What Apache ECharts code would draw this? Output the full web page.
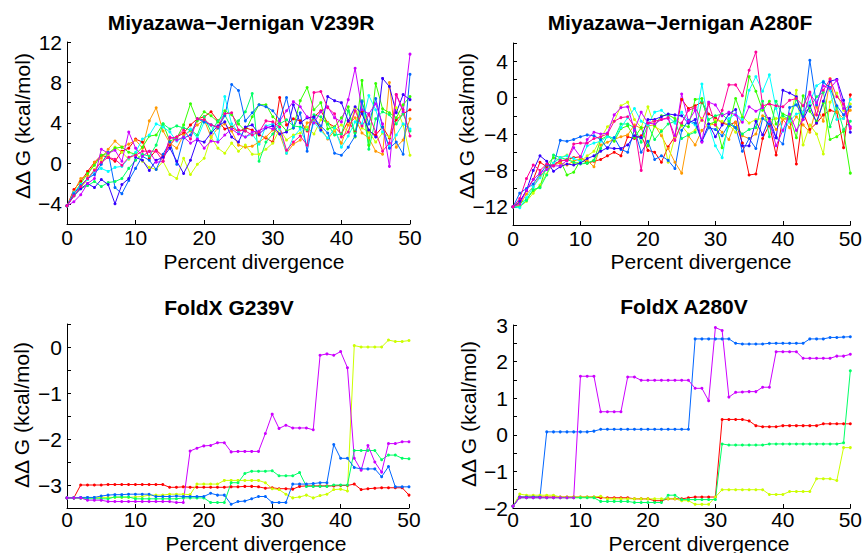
<!DOCTYPE html>
<html>
<head>
<meta charset="utf-8">
<script src="https://cdn.jsdelivr.net/npm/echarts@6.0.0/dist/echarts.min.js"></script>
<style>
html,body{margin:0;padding:0;background:#ffffff;}
#chart{width:865px;height:553px;}
</style>
</head>
<body>
<div id="chart"></div>
<script>
// ---------- data ----------
const divergence = [0,1,2,3,4,5,6,7,8,9,10,11,12,13,14,15,16,17,18,19,20,21,22,23,24,25,26,27,28,29,30,31,32,33,34,35,36,37,38,39,40,41,42,43,44,45,46,47,48,49,50];

const panelTitles = ['Miyazawa\u2212Jernigan V239R', 'Miyazawa\u2212Jernigan A280F', 'FoldX G239V', 'FoldX A280V'];
const xAxisTitle = 'Percent divergence';
const yAxisTitle = '\u0394\u0394 G (kcal/mol)';

// colours (hsv(10) style palette)
const colorsTen = ['#ff0000','#ff9900','#ccff00','#33ff00','#00ff66','#00ffff','#0066ff','#3300ff','#cc00ff','#ff0099'];
const colorsFive = ['#ff0000','#ccff00','#00ff66','#0066ff','#cc00ff'];

// Miyazawa-Jernigan V239R
const v239r_1 = [-4.2,-2.6,-1.8,-0.8,0.1,0.8,0.6,0.2,1.2,1.5,2.4,2.1,0.5,1.3,0.7,1.8,2.6,3.0,3.8,4.4,4.6,5.1,4.2,3.4,3.6,3.1,3.5,3.3,2.8,2.5,2.1,6.5,3.8,4.4,4.2,3.2,4.6,5.2,4.0,3.6,2.9,4.2,3.1,5.1,3.2,2.8,3.6,2.5,4.3,4.9,5.3];
const v239r_2 = [-4.2,-2.8,-1.5,-1.2,0.1,0.5,1.4,2.2,1.6,1.9,2.3,1.5,4.2,5.5,3.2,2.0,1.5,2.8,3.2,3.8,4.3,2.6,3.5,3.9,3.2,1.8,1.6,1.7,2.1,2.6,3.3,2.9,1.0,1.9,2.3,4.0,4.2,3.5,2.4,3.2,2.0,3.8,4.5,3.0,2.5,1.2,0.9,8.0,1.6,2.3,4.4];
const v239r_3 = [-4.2,-3.2,-2.4,-1.6,-0.6,0.2,0.8,1.6,1.1,0.4,1.0,0.2,-0.4,-0.6,0.2,-1.1,-1.5,0.5,-1.1,-0.1,0.5,2.6,1.5,1.0,2.0,1.2,1.8,0.9,0.9,1.4,2.0,3.4,2.3,2.8,3.0,3.6,2.9,4.3,4.0,3.3,3.8,3.1,5.5,3.5,3.1,2.1,3.0,2.6,5.5,3.8,0.8];
const v239r_4 = [-4.2,-3.0,-2.0,-1.0,-0.2,0.8,1.0,1.5,1.6,1.1,0.9,1.6,2.7,2.8,3.9,2.2,2.5,3.8,5.9,4.2,5.1,4.7,4.1,5.2,4.8,3.9,3.2,4.6,5.8,5.8,4.6,4.0,3.2,3.5,6.2,7.5,5.3,6.0,3.4,3.6,4.5,5.6,2.6,8.2,1.8,7.9,5.4,5.0,4.5,5.8,6.6];
const v239r_5 = [-4.2,-3.2,-2.5,-2.2,-1.8,-2.3,-1.9,-1.8,-1.5,-0.5,0.3,0.9,0.7,1.8,3.9,3.4,3.7,3.5,3.3,2.8,4.6,3.1,4.2,4.8,3.5,4.2,5.1,6.9,0.2,2.1,2.9,3.9,4.3,3.7,3.6,3.3,4.8,4.6,3.9,2.8,2.9,5.2,3.0,6.2,1.4,4.4,5.1,4.8,3.9,4.9,3.2];
const v239r_6 = [-4.2,-2.9,-2.1,-1.6,-0.8,-0.5,-0.8,-0.4,-0.3,0.5,1.1,2.4,2.8,3.9,3.6,3.1,2.2,2.6,3.4,2.5,4.1,3.8,2.3,6.6,3.9,3.1,2.6,2.9,1.9,3.7,3.9,3.4,1.0,2.6,3.4,1.8,4.1,3.2,2.5,3.5,1.6,2.7,4.1,3.9,6.7,5.3,3.1,1.7,2.8,3.9,3.4];
const v239r_7 = [-4.2,-3.0,-2.2,-1.5,-1.1,-0.1,1.1,-2.4,-3.0,-1.7,-0.5,0.7,0.3,-0.6,0.9,2.1,-0.1,2.5,2.8,4.4,4.1,3.8,3.5,4.7,7.8,7.2,4.2,5.0,5.8,5.6,5.2,4.3,6.5,3.5,5.0,1.2,4.5,3.7,3.0,1.0,0.8,1.6,2.7,6.1,3.9,6.4,3.6,1.5,2.1,0.9,8.8];
const v239r_8 = [-4.2,-3.2,-2.5,-2.0,-2.4,-1.6,-2.1,-4.0,-2.1,-1.5,0.6,0.3,-0.7,0.3,0.6,1.5,0.2,-1.0,0.3,2.3,2.1,3.0,3.7,4.1,2.6,2.1,3.6,3.8,2.9,3.5,3.7,2.9,3.1,5.8,4.0,4.5,4.6,3.3,6.6,6.2,6.0,4.2,5.6,4.9,3.3,2.6,8.4,7.6,5.0,6.8,6.3];
const v239r_9 = [-4.2,-3.8,-3.1,-2.0,-1.5,1.4,1.0,1.3,0.2,3.1,1.5,0.7,1.2,0.1,0.2,2.6,2.3,2.6,2.0,2.4,1.5,2.2,2.1,2.8,3.4,2.9,2.6,3.1,3.2,3.6,3.4,4.2,5.2,6.1,5.6,4.6,4.0,5.1,5.6,4.5,4.1,6.3,9.4,5.3,4.9,5.9,3.9,-0.3,6.8,5.1,10.8];
const v239r_10 = [-4.2,-3.2,-2.3,-1.5,-0.7,0.1,0.6,0.4,-0.2,0.6,0.8,1.2,1.2,1.2,0.2,2.5,2.6,3.3,2.4,4.4,4.3,3.8,3.6,4.9,5.0,3.3,3.2,2.8,3.1,4.2,4.1,3.6,1.3,2.1,2.7,1.8,7.0,7.1,5.5,4.9,2.6,3.1,5.2,3.7,4.8,3.1,1.2,2.0,6.8,5.3,2.7];

// Miyazawa-Jernigan A280F
const a280f_1 = [-12.0,-11.5,-10.2,-9.0,-7.1,-7.6,-7.3,-7.0,-6.8,-6.6,-6.5,-7.2,-7.0,-6.8,-6.4,-6.0,-6.4,-4.3,-4.5,-4.2,-5.8,-6.0,-7.1,-5.4,-4.3,-0.2,-1.2,-0.9,-0.5,-1.8,-2.2,-2.8,-3.0,-2.7,-5.0,-8.5,-8.4,-4.5,-3.0,-6.3,-2.3,-2.4,-7.3,-1.6,-3.5,-2.8,-1.9,-1.4,-1.6,-5.5,0.3];
const a280f_2 = [-12.0,-11.8,-10.6,-9.8,-8.6,-7.9,-7.4,-7.2,-7.4,-7.0,-6.7,-6.9,-7.6,-5.2,-4.9,-4.6,-4.3,-4.1,-3.0,-3.4,-3.1,-3.0,-4.2,-5.6,-7.1,-8.3,-4.2,-5.2,-3.6,-2.9,-3.0,-3.8,-4.6,-2.7,-4.2,-4.5,-4.0,-2.0,-2.3,-3.5,-2.4,-3.3,-2.1,-3.0,-3.8,-1.0,-2.6,2.1,-1.6,-2.3,-1.4];
const a280f_3 = [-12.0,-12.0,-11.4,-10.5,-9.6,-8.4,-7.2,-6.6,-6.3,-7.3,-7.0,-6.4,-5.9,-4.5,-3.2,-2.6,-0.9,-0.5,-2.4,-3.3,-1.0,-3.2,-3.6,-7.1,-4.3,-3.1,-4.0,-3.6,-2.3,-3.3,-2.5,-2.6,-3.0,-3.8,-2.1,-2.8,-2.4,-2.3,-2.5,-2.3,-2.2,-2.6,0.8,-5.2,-3.0,-4.0,-6.2,-0.5,0.5,-1.4,-0.7];
const a280f_4 = [-12.0,-11.6,-11.2,-10.2,-9.8,-7.4,-6.6,-6.9,-8.5,-8.2,-6.9,-7.2,-6.9,-4.6,-4.2,-4.8,-3.4,-3.1,-4.4,-3.3,-5.3,-3.1,-2.0,-1.9,-2.3,-3.0,-3.2,-0.2,-0.1,-2.9,-2.7,-5.5,-3.1,-0.1,-2.2,2.3,0.7,-1.4,-0.4,-2.9,-1.8,-2.1,-4.4,0.2,-1.5,-2.6,-0.6,-4.6,-4.3,-3.7,-8.3];
const a280f_5 = [-12.0,-12.0,-11.3,-10.1,-9.9,-8.5,-6.3,-6.6,-6.8,-7.1,-7.3,-7.2,-6.9,-5.6,-4.2,-4.5,-2.9,-2.9,-3.3,-4.9,-3.0,-4.6,-3.7,-2.9,-2.6,-4.5,-4.1,-3.8,-0.4,-2.4,-2.0,-1.8,-2.6,-3.3,-4.0,-3.5,-3.3,-0.4,-4.3,-0.4,-2.0,-2.4,-0.2,-1.8,-1.1,0.1,0.6,-3.2,-1.0,-3.5,-2.6];
const a280f_6 = [-12.0,-12.1,-11.0,-9.8,-8.8,-7.9,-7.2,-6.6,-6.4,-6.7,-7.0,-5.3,-5.0,-4.8,-4.3,-4.5,-3.3,-2.2,-1.2,-2.6,-3.0,-1.6,-1.4,-2.1,-2.8,-1.6,-2.6,-3.0,1.5,-3.0,-5.3,-6.6,-2.3,-1.8,-2.4,0.8,2.3,0.7,2.5,-1.2,-3.7,-2.6,-1.8,-1.6,-0.5,1.3,1.8,0.8,-2.4,-2.3,-0.2];
const a280f_7 = [-12.0,-10.5,-10.0,-9.5,-8.4,-7.4,-7.5,-4.7,-4.8,-4.6,-4.3,-4.1,-4.2,-4.6,-5.6,-4.4,-5.7,-6.0,-3.5,-6.0,-4.8,-6.8,-6.4,-6.9,-7.8,-3.6,-2.5,-2.8,-4.8,-3.3,-3.5,-4.2,-2.9,-3.3,-5.9,-4.5,-5.6,-2.3,-2.9,-4.4,-5.1,-1.1,-0.8,-2.1,4.1,-0.8,1.7,1.1,-0.9,-1.9,-1.0];
const a280f_8 = [-12.0,-11.4,-10.2,-8.0,-6.4,-7.0,-8.1,-7.6,-7.3,-7.4,-7.2,-6.7,-6.4,-5.9,-5.5,-5.6,-5.6,-5.2,-4.2,-4.4,-2.4,-2.4,-2.1,-1.8,-1.9,-2.0,-2.8,-2.4,-4.8,-2.9,-4.3,-3.0,-1.8,-1.3,-5.3,-5.3,-2.6,-4.1,-2.3,-4.4,0.8,0.5,0.1,-2.4,-0.9,-2.8,-0.4,1.8,2.0,-0.3,-3.8];
const a280f_9 = [-12.0,-11.7,-10.2,-9.0,-8.3,-7.9,-7.5,-7.5,-6.9,-5.5,-6.5,-4.6,-3.8,-4.0,-3.9,-1.9,-1.1,-1.0,-3.6,-1.6,-2.8,-2.9,-2.4,-2.3,-4.2,0.4,-2.6,-1.4,-4.9,-0.5,-0.8,-2.0,-1.6,-1.9,-2.7,-1.0,-1.5,-1.1,-2.6,-5.3,-3.6,-1.8,-3.6,-2.4,0.4,-0.6,1.3,1.0,1.9,-1.2,-3.2];
const a280f_10 = [-12.0,-11.1,-8.9,-7.4,-8.0,-7.3,-7.5,-6.9,-6.9,-5.1,-5.0,-5.0,-4.5,-4.3,-4.0,-2.6,-2.2,-2.1,-3.2,-8.0,-2.8,-2.6,-2.4,-2.2,-4.7,-2.8,-1.4,-1.1,-2.5,-0.7,-3.0,-1.4,1.4,1.4,0.2,3.0,5.0,-0.9,-0.7,-0.9,-1.0,-0.3,-0.1,-0.9,0.6,-1.9,0.8,2.0,0.1,-0.7,-3.4];

// FoldX G239V
const g239v_1 = [-3.28,-3.28,-3.0,-3.0,-3.0,-3.0,-2.99,-2.99,-2.99,-2.99,-2.99,-2.99,-2.99,-2.99,-2.99,-3.05,-3.05,-3.04,-3.05,-3.05,-3.05,-3.05,-3.05,-3.05,-3.04,-3.04,-3.03,-3.03,-3.04,-3.07,-3.06,-3.08,-3.08,-3.09,-3.03,-3.02,-3.02,-3.02,-3.02,-3.02,-3.01,-3.01,-2.98,-3.1,-3.08,-3.07,-3.06,-3.06,-3.06,-3.06,-3.22];
const g239v_2 = [-3.28,-3.28,-3.28,-3.28,-3.28,-3.27,-3.27,-3.27,-3.27,-3.27,-3.26,-3.25,-3.22,-3.22,-3.22,-3.2,-3.2,-3.2,-3.21,-2.98,-2.98,-2.98,-2.98,-2.9,-2.9,-2.9,-2.9,-2.9,-2.9,-2.95,-3.08,-3.1,-3.2,-3.28,-3.26,-3.22,-3.28,-3.23,-3.2,-3.1,-3.09,-3.13,0.03,0.0,0.0,0.0,0.0,0.15,0.12,0.12,0.14];
const g239v_3 = [-3.28,-3.28,-3.29,-3.3,-3.3,-3.3,-3.3,-3.26,-3.26,-3.26,-3.3,-3.3,-3.3,-3.3,-3.3,-3.3,-3.3,-3.28,-3.28,-3.28,-3.28,-3.38,-3.38,-3.38,-2.95,-2.95,-2.75,-2.7,-2.7,-2.7,-2.69,-2.8,-2.8,-2.8,-2.73,-3.03,-3.03,-3.03,-3.03,-3.0,-3.0,-3.0,-2.25,-2.25,-2.25,-2.25,-2.45,-2.35,-2.35,-2.42,-2.43];
const g239v_4 = [-3.28,-3.28,-3.27,-3.27,-3.27,-3.24,-3.22,-3.21,-3.21,-3.2,-3.2,-3.2,-3.2,-3.25,-3.25,-3.25,-3.24,-3.25,-3.25,-3.25,-3.25,-3.18,-3.22,-3.22,-3.42,-3.36,-3.35,-3.3,-3.25,-3.25,-3.38,-3.38,-3.38,-2.98,-2.98,-2.98,-2.97,-2.95,-2.95,-2.12,-2.42,-2.42,-2.62,-2.65,-2.65,-2.65,-2.82,-2.6,-3.04,-3.04,-3.04];
const g239v_5 = [-3.28,-3.28,-3.28,-3.33,-3.33,-3.33,-3.36,-3.36,-3.36,-3.36,-3.36,-3.36,-3.36,-3.36,-3.36,-3.36,-3.38,-3.38,-2.26,-2.2,-2.15,-2.14,-2.08,-2.08,-2.28,-2.27,-2.27,-2.27,-2.27,-1.88,-1.46,-1.77,-1.7,-1.76,-1.76,-1.76,-1.8,-0.18,-0.15,-0.18,-0.1,-0.45,-2.42,-2.68,-2.14,-2.5,-2.72,-2.1,-2.1,-2.06,-2.06];

// FoldX A280V
const a280v_1 = [-1.95,-1.7,-1.7,-1.7,-1.7,-1.7,-1.7,-1.7,-1.7,-1.7,-1.7,-1.7,-1.7,-1.72,-1.72,-1.72,-1.72,-1.72,-1.75,-1.75,-1.75,-1.8,-1.8,-1.75,-1.75,-1.75,-1.72,-1.7,-1.7,-1.7,-1.7,0.42,0.42,0.42,0.42,0.38,0.25,0.22,0.22,0.22,0.25,0.25,0.25,0.25,0.25,0.25,0.3,0.3,0.3,0.3,0.3];
const a280v_2 = [-1.95,-1.62,-1.65,-1.65,-1.65,-1.65,-1.65,-1.7,-1.7,-1.7,-1.7,-1.7,-1.7,-1.68,-1.75,-1.75,-1.75,-1.75,-1.75,-1.75,-1.75,-1.75,-1.75,-1.75,-1.75,-1.8,-1.8,-1.9,-1.9,-1.9,-1.7,-1.5,-1.5,-1.5,-1.5,-1.5,-1.5,-1.5,-1.63,-1.63,-1.63,-1.55,-1.55,-1.55,-1.55,-1.2,-1.2,-1.2,-1.25,-0.35,-0.35];
const a280v_3 = [-1.95,-1.72,-1.72,-1.72,-1.72,-1.72,-1.72,-1.72,-1.72,-1.72,-1.72,-1.72,-1.72,-1.82,-1.82,-1.82,-1.82,-1.82,-1.85,-1.85,-1.85,-1.85,-1.85,-1.65,-1.65,-1.77,-1.77,-1.77,-1.77,-1.77,-1.77,-0.25,-0.28,-0.28,-0.28,-0.28,-0.28,-0.28,-0.25,-0.25,-0.25,-0.25,-0.25,-0.25,-0.25,-0.25,-0.25,-0.25,-0.25,-0.22,1.75];
const a280v_4 = [-1.95,-1.7,-1.7,-1.7,-1.7,0.08,0.08,0.08,0.08,0.08,0.08,0.08,0.1,0.15,0.15,0.15,0.15,0.15,0.15,0.15,0.15,0.15,0.15,0.15,0.15,0.15,0.15,2.62,2.62,2.62,2.62,2.62,2.62,2.5,2.48,2.48,2.48,2.48,2.5,2.5,2.5,2.5,2.5,2.5,2.62,2.62,2.62,2.66,2.66,2.67,2.68];
const a280v_5 = [-1.95,-1.72,-1.72,-1.72,-1.72,-1.72,-1.72,-1.72,-1.72,-1.72,1.6,1.6,1.6,0.63,0.63,0.63,0.63,1.58,1.58,1.49,1.49,1.49,1.49,1.49,1.49,1.49,1.49,1.27,1.27,0.93,2.93,2.85,1.03,1.16,1.17,1.18,1.18,1.3,1.3,2.27,2.27,2.27,2.27,2.09,2.09,2.09,2.09,2.09,2.15,2.15,2.2];

// y axis ranges / ticks per panel
const yMins = [-6, -14, -3.5, -2];
const yMaxs = [12, 6, 0.5, 3];
const yTickSteps = [2, 2, 0.5, 0.5];
const yLabelSteps = [4, 4, 1, 1];

// ---------- layout ----------
const FONT = '"Liberation Sans", Arial, Helvetica, sans-serif';
const grids = [
  {left: 67, top: 42, width: 343, height: 182},
  {left: 513, top: 43, width: 342, height: 182},
  {left: 67, top: 324, width: 342, height: 184},
  {left: 513, top: 325, width: 342, height: 183}
];
const titlePos = [[241, 22.5], [680, 22.5], [229, 307.5], [684, 306.5]];
const yNamePos = [[22, 126], [466, 126], [21, 415], [468, 414]];
const xNamePos = [[254, 261], [701, 261], [256, 543], [699, 543]];
const xLabelMargin = [3, 3, 1, 1];

const panels = [
  {series: [v239r_1,v239r_2,v239r_3,v239r_4,v239r_5,v239r_6,v239r_7,v239r_8,v239r_9,v239r_10], colors: colorsTen},
  {series: [a280f_1,a280f_2,a280f_3,a280f_4,a280f_5,a280f_6,a280f_7,a280f_8,a280f_9,a280f_10], colors: colorsTen},
  {series: [g239v_1,g239v_2,g239v_3,g239v_4,g239v_5], colors: colorsFive},
  {series: [a280v_1,a280v_2,a280v_3,a280v_4,a280v_5], colors: colorsFive}
];

panels.forEach((p, pi) => p.series.forEach((s, si) => {
  if (s.length !== divergence.length) throw new Error('panel ' + pi + ' series ' + si + ' has ' + s.length + ' values');
}));

function fmt(v) {
  const s = String(Math.round(v * 1000) / 1000);
  return s.replace('-', '\u2212');
}

const xAxes = [], yAxes = [], seriesList = [], graphics = [];
panels.forEach((p, i) => {
  xAxes.push({
    gridIndex: i, type: 'value', min: 0, max: 50, interval: 10,
    axisLine: {show: true, onZero: false, lineStyle: {color: '#000', width: 1}},
    axisTick: {show: true, inside: true, length: 4, lineStyle: {color: '#000', width: 1}},
    axisLabel: {show: true, color: '#000', fontSize: 21, fontFamily: FONT, margin: xLabelMargin[i], formatter: fmt},
    splitLine: {show: false}
  });
  const lstep = yLabelSteps[i];
  yAxes.push({
    gridIndex: i, type: 'value', min: yMins[i], max: yMaxs[i], interval: yTickSteps[i],
    axisLine: {show: true, onZero: false, lineStyle: {color: '#000', width: 1}},
    axisTick: {show: true, inside: true, length: 4, lineStyle: {color: '#000', width: 1}},
    axisLabel: {
      show: true, color: '#000', fontSize: 21, fontFamily: FONT, margin: 5,
      formatter: v => {
        const r = v / lstep;
        return Math.abs(r - Math.round(r)) < 1e-6 ? fmt(v) : '';
      }
    },
    splitLine: {show: false}
  });
  p.series.forEach((ys, k) => {
    seriesList.push({
      type: 'line', xAxisIndex: i, yAxisIndex: i,
      data: divergence.map((x, j) => [x, ys[j]]),
      symbol: 'circle', symbolSize: 3, showSymbol: true,
      lineStyle: {width: 1, color: p.colors[k]},
      itemStyle: {color: p.colors[k]},
      emphasis: {disabled: true},
      silent: true
    });
  });
  graphics.push({
    type: 'text', x: titlePos[i][0], y: titlePos[i][1],
    style: {text: panelTitles[i], fill: '#000', font: 'bold 21px ' + FONT,
            align: 'center', verticalAlign: 'middle', textAlign: 'center', textVerticalAlign: 'middle'}
  });
  graphics.push({
    type: 'text', x: xNamePos[i][0], y: xNamePos[i][1],
    style: {text: xAxisTitle, fill: '#000', font: '21px ' + FONT,
            align: 'center', verticalAlign: 'middle', textAlign: 'center', textVerticalAlign: 'middle'}
  });
  graphics.push({
    type: 'text', x: yNamePos[i][0], y: yNamePos[i][1], rotation: Math.PI / 2,
    style: {text: yAxisTitle, fill: '#000', font: '21px ' + FONT,
            align: 'center', verticalAlign: 'middle', textAlign: 'center', textVerticalAlign: 'middle'}
  });
});

const chart = echarts.init(document.getElementById('chart'), null, {renderer: 'svg', width: 865, height: 553});
chart.setOption({
  animation: false,
  backgroundColor: '#ffffff',
  grid: grids,
  xAxis: xAxes,
  yAxis: yAxes,
  series: seriesList,
  graphic: graphics
});
</script>
</body>
</html>
